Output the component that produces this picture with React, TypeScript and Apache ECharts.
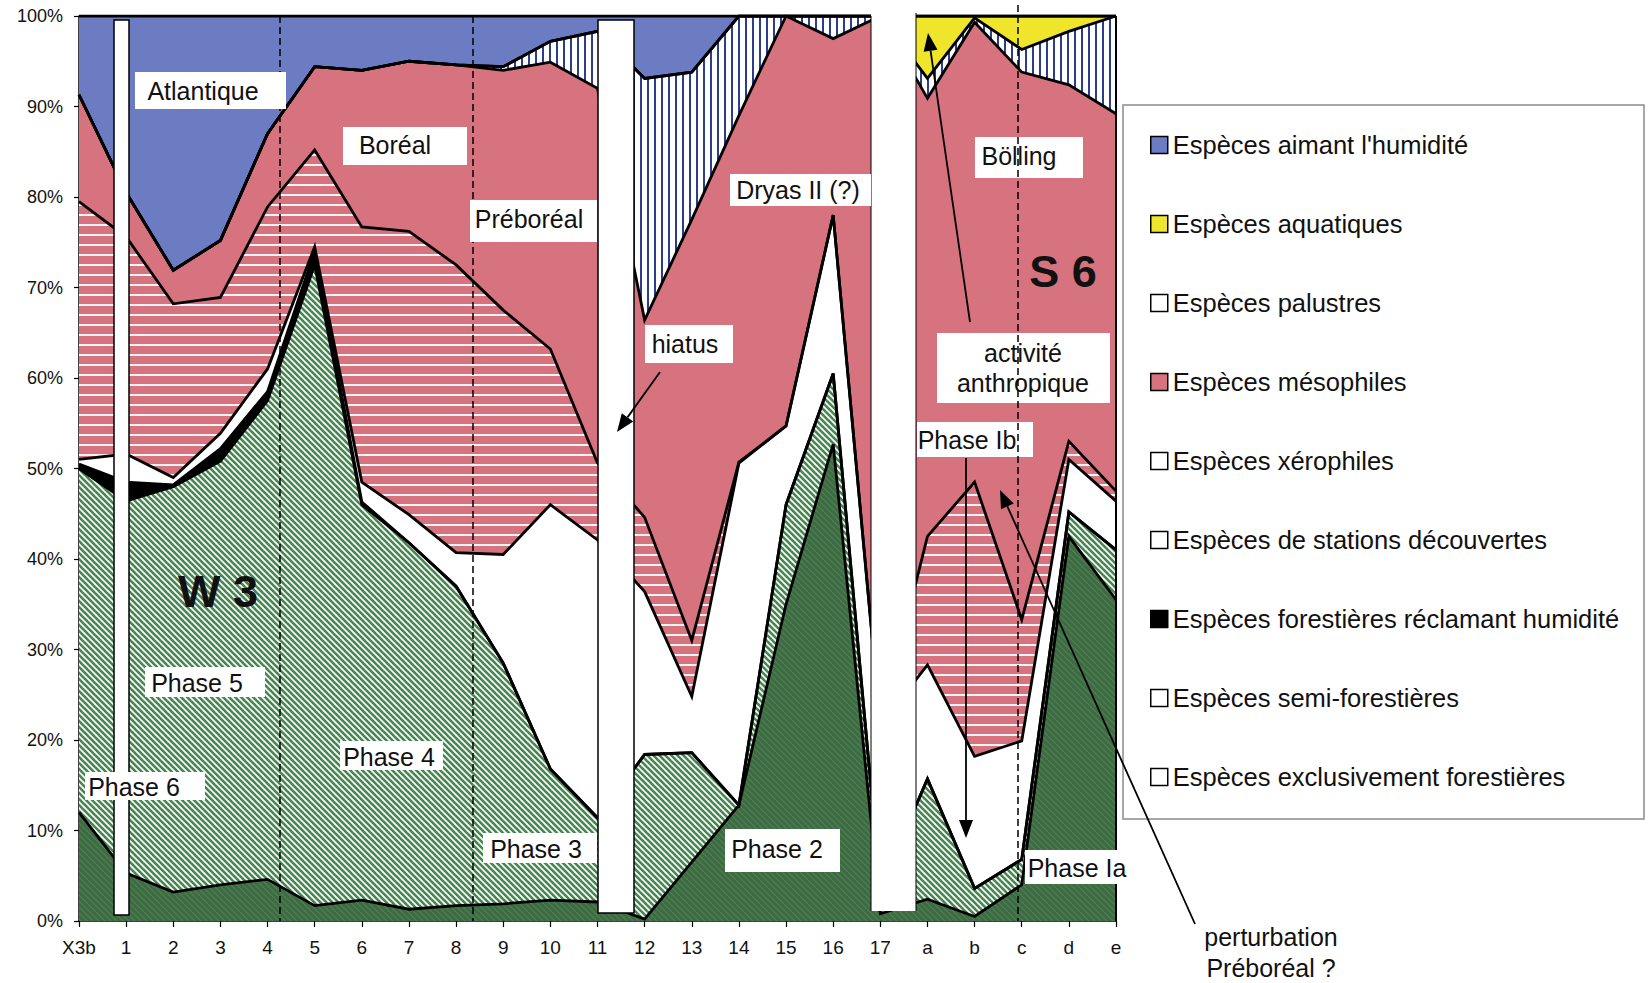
import React, { useEffect, useRef } from 'react';
import * as echarts from 'echarts';

const categories = ['X3b', '1', '2', '3', '4', '5', '6', '7', '8', '9', '10', '11', '12', '13', '14', '15', '16', '17', 'a', 'b', 'c', 'd', 'e'];

const exclusivementForestieres = [12, 5.3, 3.2, 4, 4.6, 1.7, 2.3, 1.3, 1.7, 1.9, 2.3, 2.1, 0.2, 6.5, 12.8, 35, 52.7, 0.8, 2.4, 0.5, 4, 42.5, 35.5];
const semiForestieres = [38, 41.1, 44.8, 46.8, 52.9, 70.8, 43.7, 40.5, 35.3, 26.6, 14.5, 9.3, 18.2, 12.1, 0, 11, 7.8, 2.8, 13.3, 3.1, 2.8, 2.7, 5.5];
const forestieresHumidite = [0.5, 2.1, 0.2, 1.4, 1, 1.5, 0.3, 0, 0, 0, 0, 0, 0, 0, 0, 0, 0, 0, 0, 0, 0, 0, 0];
const stationsDecouvertes = [0.5, 3.1, 0.8, 1.7, 2.5, 0.5, 2.2, 3.1, 3.7, 12, 29.2, 30.7, 18, 6.2, 37.8, 8.7, 17.5, 18, 12.6, 14.6, 13.1, 5.8, 5.4];
const xerophiles = [28.5, 24, 19.2, 15, 17.9, 10.7, 28.2, 31.3, 31.8, 27, 17.2, 8.5, 8.2, 6.2, 0.1, 0, 0, 0, 14.2, 30.3, 13.4, 2, 1.1];
const mesophiles = [11.8, 4.9, 3.7, 6.3, 8.1, 9.2, 17.3, 18.8, 22.1, 26.5, 31.7, 41.4, 21.8, 46.5, 38.3, 45.3, 19.5, 78.4, 48.4, 50.8, 60.5, 39.4, 41.7];
const palustres = [0, 0, 0, 0, 0, 0, 0, 0, 0, 0.4, 2.3, 6.3, 26.7, 16.3, 11, 0, 2.5, 0, 2.2, 0.5, 2.5, 5.9, 10.8];
const aquatiques = [0, 0, 0, 0, 0, 0, 0, 0, 0, 0, 0, 0, 0, 0, 0, 0, 0, 0, 6.9, 0.2, 3.7, 1.7, 0];
const humidite = [8.7, 19.5, 28.1, 24.8, 13, 5.6, 6, 5, 5.4, 5.6, 2.8, 1.7, 6.9, 6.2, 0, 0, 0, 0, 0, 0, 0, 0, 0];

const yTicks = [0, 10, 20, 30, 40, 50, 60, 70, 80, 90, 100];

const FONT = '"Liberation Sans", Arial, Helvetica, sans-serif';

function makePattern(kind: string) {
  const c = document.createElement('canvas');
  const ctx = c.getContext('2d')!;
  if (kind === 'xero') {
    c.width = 10; c.height = 10;
    ctx.fillStyle = '#d6737f'; ctx.fillRect(0, 0, 10, 10);
    ctx.fillStyle = 'rgba(255,255,255,0.92)'; ctx.fillRect(0, 4, 10, 2);
  } else if (kind === 'palu') {
    c.width = 7; c.height = 7;
    ctx.fillStyle = '#ffffff'; ctx.fillRect(0, 0, 7, 7);
    ctx.fillStyle = '#2c3d8c'; ctx.fillRect(3, 0, 2, 7);
  } else if (kind === 'semi') {
    const s = 6;
    c.width = s; c.height = s;
    ctx.fillStyle = '#ffffff'; ctx.fillRect(0, 0, s, s);
    ctx.strokeStyle = '#468650'; ctx.lineWidth = 2.6;
    for (const k of [-s, 0, s]) {
      ctx.beginPath(); ctx.moveTo(k - 1, -1); ctx.lineTo(k + s + 1, s + 1); ctx.stroke();
    }
  } else {
    const s = 6;
    c.width = s; c.height = s;
    ctx.fillStyle = '#3d6c43'; ctx.fillRect(0, 0, s, s);
    ctx.strokeStyle = '#527f57'; ctx.lineWidth = 1.2;
    for (const k of [-s, 0, s]) {
      ctx.beginPath(); ctx.moveTo(k - 1, -1); ctx.lineTo(k + s + 1, s + 1); ctx.stroke();
    }
  }
  return { image: c, repeat: 'repeat', imageWidth: c.width, imageHeight: c.height };
}

function arrow(x1: number, y1: number, x2: number, y2: number) {
  const dx = x2 - x1, dy = y2 - y1;
  const L = Math.hypot(dx, dy);
  const ux = dx / L, uy = dy / L;
  const hl = 18, hw = 7;
  const bx = x2 - ux * hl, by = y2 - uy * hl;
  return [
    { type: 'line', z: 130, shape: { x1, y1, x2: bx, y2: by }, style: { stroke: '#000', lineWidth: 1.8 } },
    { type: 'polygon', z: 130, shape: { points: [[x2, y2], [bx - uy * hw, by + ux * hw], [bx + uy * hw, by - ux * hw]] }, style: { fill: '#000' } },
  ];
}

function txt(text: string, x: number, y: number, size: number, weight = 'normal', z = 120, lineHeight?: number) {
  return {
    type: 'text', z, x, y,
    style: {
      text, fill: '#111', font: `${weight} ${size}px ${FONT}`,
      align: 'center', verticalAlign: 'middle', textAlign: 'center', textVerticalAlign: 'middle',
      lineHeight: lineHeight || size * 1.2,
    },
  };
}

function boxLabel(text: string, bx: number, by: number, bw: number, bh: number, tx: number, ty: number) {
  return [
    { type: 'rect', z: 110, shape: { x: bx, y: by, width: bw, height: bh }, style: { fill: '#fff' } },
    txt(text, tx, ty, 25, 'normal', 115, 30),
  ];
}

function dashed(x: number, y1: number, y2: number, z: number) {
  return { type: 'line', z, shape: { x1: x, y1, x2: x, y2 }, style: { stroke: '#000', lineWidth: 1.5, lineDash: [7, 4] } };
}

export default function App() {
  const ref = useRef<HTMLDivElement>(null);
  useEffect(() => {
    const chart = echarts.init(ref.current!, null, { renderer: 'svg' });

    const layers = [
      { name: 'Espèces exclusivement forestières', data: exclusivementForestieres, fill: makePattern('dark'), icon: '#ffffff' },
      { name: 'Espèces semi-forestières', data: semiForestieres, fill: makePattern('semi'), icon: '#ffffff' },
      { name: 'Espèces forestières réclamant humidité', data: forestieresHumidite, fill: '#000000', icon: '#000000' },
      { name: 'Espèces de stations découvertes', data: stationsDecouvertes, fill: '#ffffff', icon: '#ffffff' },
      { name: 'Espèces xérophiles', data: xerophiles, fill: makePattern('xero'), icon: '#ffffff' },
      { name: 'Espèces mésophiles', data: mesophiles, fill: '#d6737f', icon: '#d6737f' },
      { name: 'Espèces palustres', data: palustres, fill: makePattern('palu'), icon: '#ffffff' },
      { name: 'Espèces aquatiques', data: aquatiques, fill: '#efe52a', icon: '#efe52a' },
      { name: "Espèces aimant l'humidité", data: humidite, fill: '#6b7cc2', icon: '#6b7cc2' },
    ];

    const areaSeries = layers.map((l) => ({
      type: 'line', name: l.name, data: l.data, stack: 'area', symbol: 'none', showSymbol: false,
      lineStyle: { width: 0, color: l.icon }, itemStyle: { color: l.icon },
      areaStyle: { color: l.fill, opacity: 1 }, z: 2, silent: true, emphasis: { disabled: true },
    }));
    const lineSeries = layers.map((l, i) => ({
      type: 'line', name: '_border' + i, data: l.data, stack: 'borders', symbol: 'none', showSymbol: false,
      lineStyle: { width: 2.8, color: '#000', join: 'miter' }, z: 3, silent: true, emphasis: { disabled: true },
    }));

    const legendData = layers.slice().reverse().map((l) => ({
      name: l.name, itemStyle: { color: l.icon, borderColor: '#000', borderWidth: 1.5, decal: 'none' },
    }));

    const graphics: any[] = [
      { type: 'rect', z: 90, shape: { x: 1123, y: 105, width: 521, height: 714 }, style: { fill: 'transparent', stroke: '#8c8c8c', lineWidth: 1.5 } },
      dashed(280, 16, 921, 100),
      dashed(473, 16, 921, 100),
      { type: 'rect', z: 105, shape: { x: 114, y: 20, width: 15, height: 895 }, style: { fill: '#fff', stroke: '#000', lineWidth: 1.5 } },
      { type: 'rect', z: 105, shape: { x: 598, y: 20, width: 36, height: 893 }, style: { fill: '#fff', stroke: '#000', lineWidth: 1.5 } },
      { type: 'rect', z: 105, shape: { x: 871, y: 4, width: 45, height: 907 }, style: { fill: '#fff' } },
      { type: 'line', z: 106, shape: { x1: 871, y1: 16, x2: 871, y2: 911 }, style: { stroke: '#000', lineWidth: 1 } },
      { type: 'line', z: 106, shape: { x1: 916, y1: 13, x2: 916, y2: 911 }, style: { stroke: '#000', lineWidth: 1 } },
      { type: 'line', z: 106, shape: { x1: 1116, y1: 16, x2: 1116, y2: 921 }, style: { stroke: '#000', lineWidth: 2 } },
      ...boxLabel('Atlantique', 135, 72, 151, 37, 203, 91),
      ...boxLabel('Boréal', 343, 127, 124, 38, 395, 145),
      ...boxLabel('Préboréal', 470, 200, 127, 42, 529, 219),
      ...boxLabel('Dryas II (?)', 730, 174, 141, 32, 798, 190),
      ...boxLabel('hiatus', 645, 325, 88, 38, 685, 344),
      ...boxLabel('Bölling', 975, 137, 108, 41, 1019, 156),
      ...boxLabel('activité\nanthropique', 937, 333, 173, 70, 1023, 368),
      ...boxLabel('Phase Ib', 917, 422, 116, 35, 967, 440),
      ...boxLabel('Phase 5', 145, 667, 120, 30, 197, 683),
      ...boxLabel('Phase 6', 85, 772, 120, 28, 134, 787),
      ...boxLabel('Phase 4', 340, 741, 103, 29, 389, 757),
      ...boxLabel('Phase 3', 483, 833, 114, 30, 536, 849),
      ...boxLabel('Phase 2', 725, 829, 115, 43, 777, 849),
      ...boxLabel('Phase Ia', 1025, 850, 103, 34, 1077, 868),
      txt('W 3', 218, 591, 45, 'bold', 118),
      txt('S 6', 1063, 271, 45, 'bold', 118),
      txt('perturbation', 1271, 937, 25, 'normal', 118),
      txt('Préboréal ?', 1271, 968, 25, 'normal', 118),
      dashed(1018, 5, 921, 125),
      ...arrow(660, 372, 617, 432),
      ...arrow(970, 322, 928, 33),
      ...arrow(966, 458, 966, 838),
      ...arrow(1195, 924, 1000, 490),
    ];

    chart.setOption({
      animation: false,
      backgroundColor: '#ffffff',
      grid: { left: 79, right: 535, top: 16, bottom: 62, containLabel: false },
      legend: {
        orient: 'vertical', left: 1150, top: 132, padding: 0, itemWidth: 17, itemHeight: 17, itemGap: 53,
        icon: 'rect', selectedMode: false, data: legendData,
        textStyle: { fontSize: 25.5, fontFamily: FONT, color: '#111', lineHeight: 25 },
      },
      xAxis: {
        type: 'category', data: categories, boundaryGap: false,
        axisLine: { lineStyle: { color: '#000', width: 1.5 } },
        axisTick: { show: true, length: 6, interval: 0, lineStyle: { color: '#000', width: 1.2 } },
        axisLabel: { interval: 0, fontSize: 19, fontFamily: FONT, color: '#111', margin: 17 },
        splitLine: { show: false },
      },
      yAxis: {
        type: 'value', min: yTicks[0], max: yTicks[yTicks.length - 1], interval: yTicks[1] - yTicks[0],
        axisLine: { show: true, lineStyle: { color: '#000', width: 1.5 } },
        axisTick: { show: true, length: 5, lineStyle: { color: '#000', width: 1.2 } },
        axisLabel: { formatter: '{value}%', fontSize: 18, fontFamily: FONT, color: '#111', margin: 16 },
        splitLine: { show: false },
      },
      series: [...areaSeries, ...lineSeries],
      graphic: { elements: graphics },
    });
    return () => chart.dispose();
  }, []);
  return <div ref={ref} style={{ position: 'absolute', left: 0, top: 0, width: 1651, height: 983, background: '#fff' }} />;
}
